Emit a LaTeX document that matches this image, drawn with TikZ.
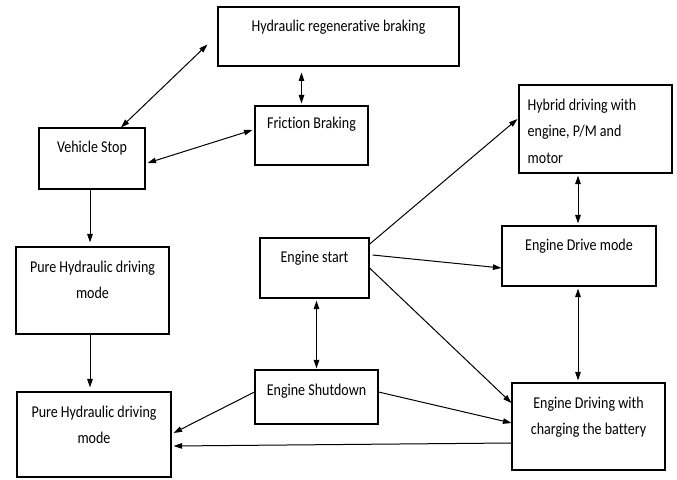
\documentclass[tikz,border=0pt]{standalone}
\usepackage{fontspec}
\setmainfont{Carlito}[FakeStretch=0.85,Ligatures={NoCommon,NoRequired,NoContextual}]
\usetikzlibrary{positioning,calc,arrows.meta}

\tikzset{
  box/.style={draw,line width=1.1pt,inner sep=0pt},
  tag/.style={inner sep=0pt,align=center,font=\fontsize{16.5}{26.5}\selectfont},
  link/.style={line width=1pt}
}

\begin{document}
\begin{tikzpicture}[x=1pt,y=-1pt,>={Triangle[length=8.5pt,width=5.5pt]}]
  \useasboundingbox (0,0) rectangle (677,479);
  % boxes
  \node[box,minimum width=241pt,minimum height=59pt] (regen) at (338.5,36.5) {};
  \node[box,minimum width=113pt,minimum height=59pt] (fric) at (311.5,135.5) {};
  \node[box,minimum width=106pt,minimum height=61pt] (stop) at (92,158.5) {};
  \node[box,minimum width=153pt,minimum height=87pt] (pure1) at (92.5,290.5) {};
  \node[box,minimum width=154pt,minimum height=85pt] (pure2) at (94,434.5) {};
  \node[box,minimum width=109pt,minimum height=60pt] (start) at (314.5,268) {};
  \node[box,minimum width=123pt,minimum height=54pt] (shut) at (316.5,397) {};
  \node[box,minimum width=153pt,minimum height=88pt] (hybrid) at (595.5,129) {};
  \node[box,minimum width=154pt,minimum height=60pt] (drive) at (579,256) {};
  \node[box,minimum width=153pt,minimum height=87pt] (charge) at (588.5,426.5) {};
  % texts
  \node[tag,below=13pt of regen.north] (regenT) {Hydraulic regenerative braking};
  \node[tag,below=11pt of fric.north] (fricT) {Friction Braking};
  \node[tag,below=13pt of stop.north] (stopT) {Vehicle Stop};
  \node[tag,below=14pt of pure1.north] (pure1T) {Pure Hydraulic driving\\mode};
  \node[tag,below=14pt of pure2.north] (pure2T) {Pure Hydraulic driving\\mode};
  \node[tag,below=13pt of start.north] (startT) {Engine start};
  \node[tag,below=14pt of shut.north] (shutT) {Engine Shutdown};
  \node[tag,align=left,below right=14pt and 9pt of hybrid.north west] (hybridT) {Hybrid driving with\\engine, P/M and\\motor};
  \node[tag,below=13pt of drive.north] (driveT) {Engine Drive mode};
  \node[tag,below=14pt of charge.north] (chargeT) {Engine Driving with\\charging the battery};
  % braking side
  \draw[link,<->] (stop.47) -- ($(regen.west)+(-10,8)$);
  \draw[link,<->] ($(fric.north)+(-10,-2)$) -- ($(fric.north)+(-10,-33)$);
  \draw[link,<->] ($(stop.east)+(2,4.5)$) -- ($(fric.west)+(-2,-5.5)$);
  \draw[link,->] ($(stop.south)+(-2,0)$) -- ($(stop.south |- pure1.north)+(-2,-4)$);
  \draw[link,->] ($(pure1.south)+(-2.5,0)$) -- ($(pure1.south |- pure2.north)+(-2.5,-4)$);
  % engine side
  \draw[link,<->] ($(start.south)+(2,2)$) -- ($(start.south |- shut.north)+(2,-1)$);
  \draw[link,->] ($(shut.west)+(0,-5)$) -- ($(pure2.east)+(2,-1.5)$);
  \draw[link,->] ($(charge.west)+(0,16.5)$) -- ($(pure2.east)+(2,11.5)$);
  \draw[link,->] ($(start.east)+(-1,-23)$) -- ($(hybrid.west)+(-1,-10)$);
  \draw[link,->] ($(start.east)+(3,-13)$) -- ($(drive.west)+(0,12)$);
  \draw[link,->] (start.east) -- ($(charge.west)+(0,-23.5)$);
  \draw[link,->] ($(shut.east)+(0,-5)$) -- ($(charge.west)+(0,-3.5)$);
  \draw[link,<->] ($(hybrid.south -| drive.north)+(-1,2)$) -- ($(drive.north)+(-1,-2)$);
  \draw[link,<->] ($(drive.south)+(-1,2)$) -- ($(drive.south |- charge.north)+(-1,-2)$);
\end{tikzpicture}
\end{document}
